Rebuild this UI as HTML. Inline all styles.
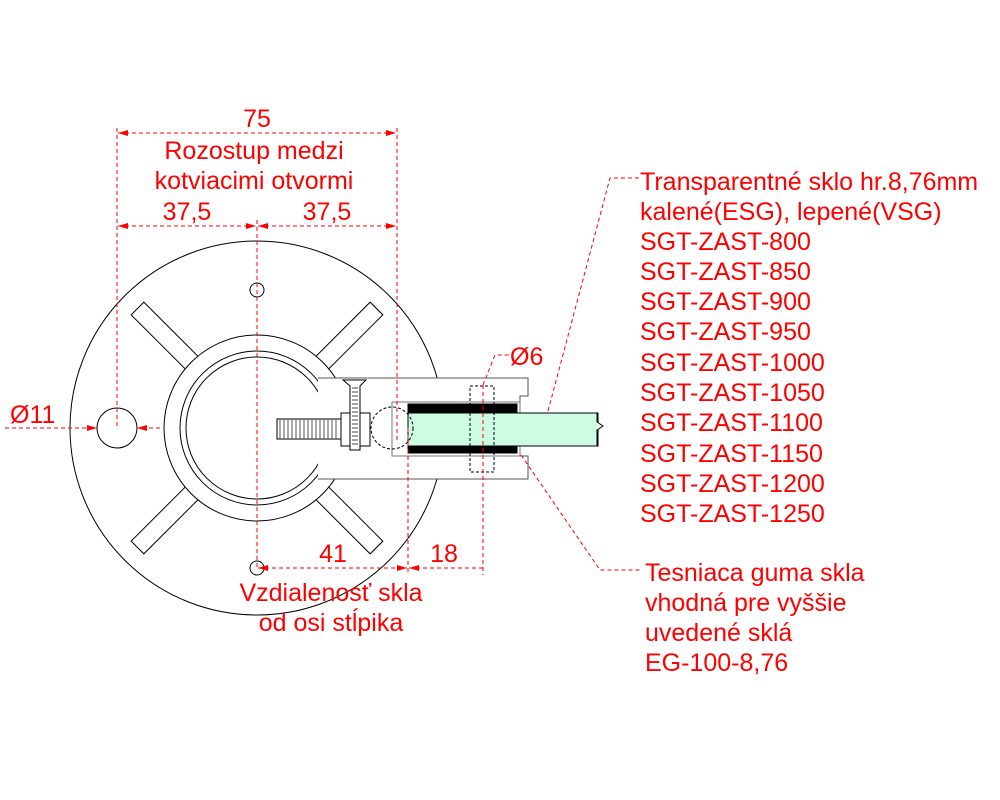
<!DOCTYPE html>
<html><head><meta charset="utf-8"><style>
html,body{margin:0;padding:0;background:#fff;width:1000px;height:800px;overflow:hidden}
svg text{font-family:"Liberation Sans",sans-serif;font-size:25px;fill:#f00}
</style></head><body>
<svg width="1000" height="800" viewBox="0 0 1000 800">
<defs>
<marker id="a" viewBox="0 0 10 6" refX="10" refY="3" markerWidth="14" markerHeight="6" orient="auto-start-reverse" markerUnits="userSpaceOnUse"><path d="M0,0L10,3L0,6z" fill="#f00"/></marker>
</defs>
<g fill="none" stroke="#000" stroke-width="1">
<circle cx="257" cy="428" r="187"/>
<circle cx="117" cy="428" r="20"/>
<circle cx="257" cy="290" r="7"/>
<circle cx="257" cy="568" r="7"/>
<g transform="translate(257,428)">
<rect x="90" y="-9" width="79" height="18" transform="rotate(-45)"/>
<rect x="90" y="-9" width="79" height="18" transform="rotate(45)"/>
<rect x="90" y="-9" width="79" height="18" transform="rotate(135)"/>
<rect x="90" y="-9" width="79" height="18" transform="rotate(-135)"/>
</g>
<circle cx="257" cy="428" r="93" fill="#fff"/>
<circle cx="257" cy="428" r="77"/>
<circle cx="257" cy="428" r="71"/>
<!-- clamp -->
<path d="M318,378H528V396H520V402H392V456H528V479H318" fill="#fff" stroke="#555"/>
<rect x="392" y="402" width="128" height="54" fill="#fff" stroke="#777"/>
<rect x="408" y="413" width="190" height="33" fill="#ccfce4" stroke="#000"/>
<path d="M597,413V422L603,426L597,430V446" fill="#fff" stroke="#000"/>
<rect x="408" y="404" width="109" height="9" fill="#000"/>
<rect x="408" y="446" width="109" height="7" fill="#000"/>
<rect x="341" y="413" width="29" height="33" fill="#fff"/>
<path d="M343,380H366L360,386V450H350V386Z" fill="#fff"/>
<path d="M352,388H358M352,392H358M352,396H358M352,400H358M352,404H358M352,408H358M352,412H358M352,416H358M352,420H358M352,424H358M352,428H358M352,432H358M352,436H358M352,440H358M352,444H358" stroke="#444"/>
<rect x="277" y="419" width="64" height="20" fill="#fff"/>
<path d="M280,419V439M284,419V439M288,419V439M292,419V439M296,419V439M300,419V439M304,419V439M308,419V439M312,419V439M316,419V439M320,419V439M324,419V439M328,419V439M332,419V439M336,419V439" stroke="#555"/>
<circle cx="392" cy="428" r="21" stroke-dasharray="3,2"/>
<rect x="470" y="386" width="24" height="86" stroke-dasharray="3,2"/>
</g>
<g stroke="#f00" stroke-width="1" stroke-dasharray="4,3" fill="none">
<line x1="117" y1="128" x2="117" y2="428"/>
<line x1="257" y1="220" x2="257" y2="568"/>
<line x1="397" y1="128" x2="397" y2="440"/>
<line x1="408" y1="428" x2="408" y2="575"/>
<line x1="483" y1="385" x2="483" y2="575"/>
<line x1="118" y1="133" x2="396" y2="133" marker-start="url(#a)" marker-end="url(#a)"/>
<line x1="118" y1="226" x2="256" y2="226" marker-start="url(#a)" marker-end="url(#a)"/>
<line x1="258" y1="226" x2="396" y2="226" marker-start="url(#a)" marker-end="url(#a)"/>
<line x1="5" y1="428" x2="97" y2="428" marker-end="url(#a)"/>
<line x1="160" y1="428" x2="137" y2="428" marker-end="url(#a)"/>
<line x1="258" y1="568" x2="407" y2="568" marker-start="url(#a)" marker-end="url(#a)"/>
<line x1="409" y1="568" x2="483" y2="568" marker-start="url(#a)"/>
<polyline points="548,411 610,178 640,178"/>
<polyline points="521,455 600,570 640,570"/>
<polyline points="483,385 495,355 510,355"/>
</g>
<text x="257" y="127" text-anchor="middle">75</text>
<text x="254" y="159" text-anchor="middle">Rozostup medzi</text>
<text x="254" y="189" text-anchor="middle">kotviacimi otvormi</text>
<text x="187" y="220" text-anchor="middle">37,5</text>
<text x="327" y="220" text-anchor="middle">37,5</text>
<text x="10" y="423">Ø11</text>
<text x="510" y="365">Ø6</text>
<text x="333" y="562" text-anchor="middle">41</text>
<text x="444" y="562" text-anchor="middle">18</text>
<text x="331" y="601" text-anchor="middle">Vzdialenosť skla</text>
<text x="331" y="631" text-anchor="middle">od osi stĺpika</text>
<text x="640" y="190">Transparentné sklo hr.8,76mm</text>
<text x="640" y="220">kalené(ESG), lepené(VSG)</text>
<text x="640" y="250">SGT-ZAST-800</text>
<text x="640" y="280">SGT-ZAST-850</text>
<text x="640" y="310">SGT-ZAST-900</text>
<text x="640" y="340">SGT-ZAST-950</text>
<text x="640" y="371">SGT-ZAST-1000</text>
<text x="640" y="401">SGT-ZAST-1050</text>
<text x="640" y="431">SGT-ZAST-1100</text>
<text x="640" y="462">SGT-ZAST-1150</text>
<text x="640" y="492">SGT-ZAST-1200</text>
<text x="640" y="522">SGT-ZAST-1250</text>
<text x="645" y="581">Tesniaca guma skla</text>
<text x="645" y="611">vhodná pre vyššie</text>
<text x="645" y="641">uvedené sklá</text>
<text x="645" y="671">EG-100-8,76</text>
</svg>
</body></html>
